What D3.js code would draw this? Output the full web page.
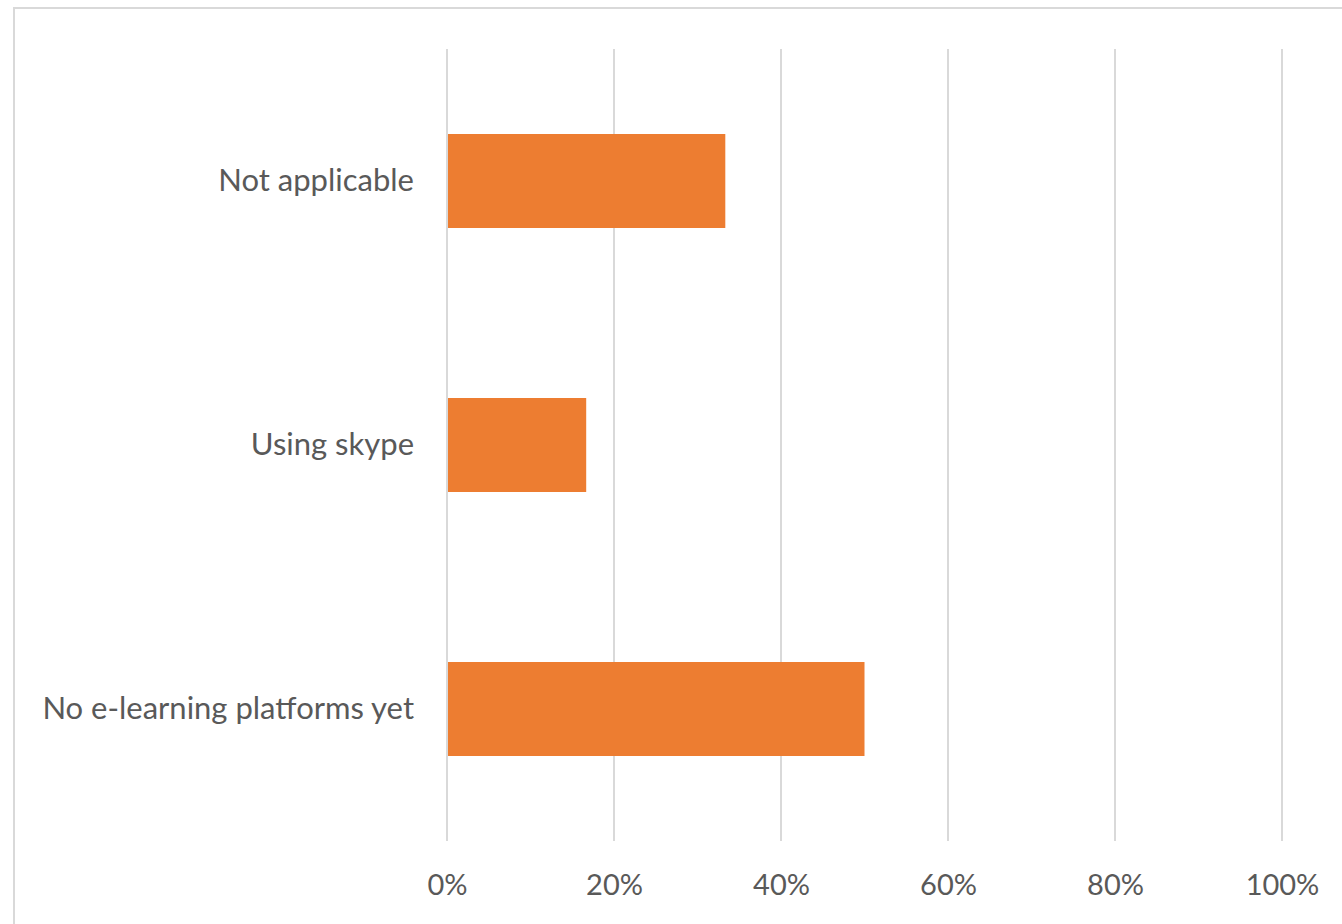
<!DOCTYPE html>
<html>
<head>
<meta charset="utf-8">
<script src="https://cdn.jsdelivr.net/npm/d3@7"></script>
<style>
  html, body { margin: 0; padding: 0; background: #fff; }
  svg { display: block; }
  text { font-family: Lato, "Open Sans", sans-serif; fill: #595959; }
</style>
</head>
<body>
<svg id="chart" width="1342" height="924"></svg>
<script>
// Categories (top to bottom) and their shares
const categories = ["Not applicable", "Using skype", "No e-learning platforms yet"];
const values = [0.3333, 0.1667, 0.5];
const tickValues = [0, 0.2, 0.4, 0.6, 0.8, 1.0];

const svg = d3.select("#chart");
const W = 1342, H = 924;

// outer chart frame
svg.append("rect")
  .attr("x", 14).attr("y", 8)
  .attr("width", W).attr("height", H)
  .attr("fill", "#fff")
  .attr("stroke", "#d9d9d9")
  .attr("stroke-width", 2);

const x = d3.scaleLinear().domain([0, 1]).range([447, 1282]);
const y = d3.scaleBand().domain(categories).range([49, 841])
  .paddingInner(0.644).paddingOuter(0.322);

// vertical gridlines
svg.append("g").selectAll("line")
  .data(tickValues)
  .join("line")
  .attr("x1", d => x(d)).attr("x2", d => x(d))
  .attr("y1", 49).attr("y2", 841)
  .attr("stroke", "#d9d9d9")
  .attr("stroke-width", 2);

// bars
svg.append("g").selectAll("rect")
  .data(values)
  .join("rect")
  .attr("x", x(0) + 1)
  .attr("y", (d, i) => y(categories[i]))
  .attr("width", d => x(d) - x(0) - 1)
  .attr("height", y.bandwidth())
  .attr("fill", "#ED7D31");

// x-axis tick labels
const xAxis = d3.axisBottom(x)
  .tickValues(tickValues)
  .tickFormat(d3.format(".0%"))
  .tickSize(0)
  .tickPadding(0);
const gx = svg.append("g").attr("transform", "translate(0,885)").call(xAxis);
gx.select(".domain").remove();
gx.selectAll("text")
  .attr("dy", "0.35em")
  .attr("y", 0)
  .style("font-size", "29px")
  .style("font-family", "Lato, 'Open Sans', sans-serif")
  .attr("fill", "#595959");

// y-axis category labels
const yAxis = d3.axisLeft(y).tickSize(0).tickPadding(0);
const gy = svg.append("g").attr("transform", "translate(414,0)").call(yAxis);
gy.select(".domain").remove();
gy.selectAll("text")
  .style("font-size", "31px")
  .style("font-family", "Lato, 'Open Sans', sans-serif")
  .attr("fill", "#595959");
</script>
</body>
</html>
